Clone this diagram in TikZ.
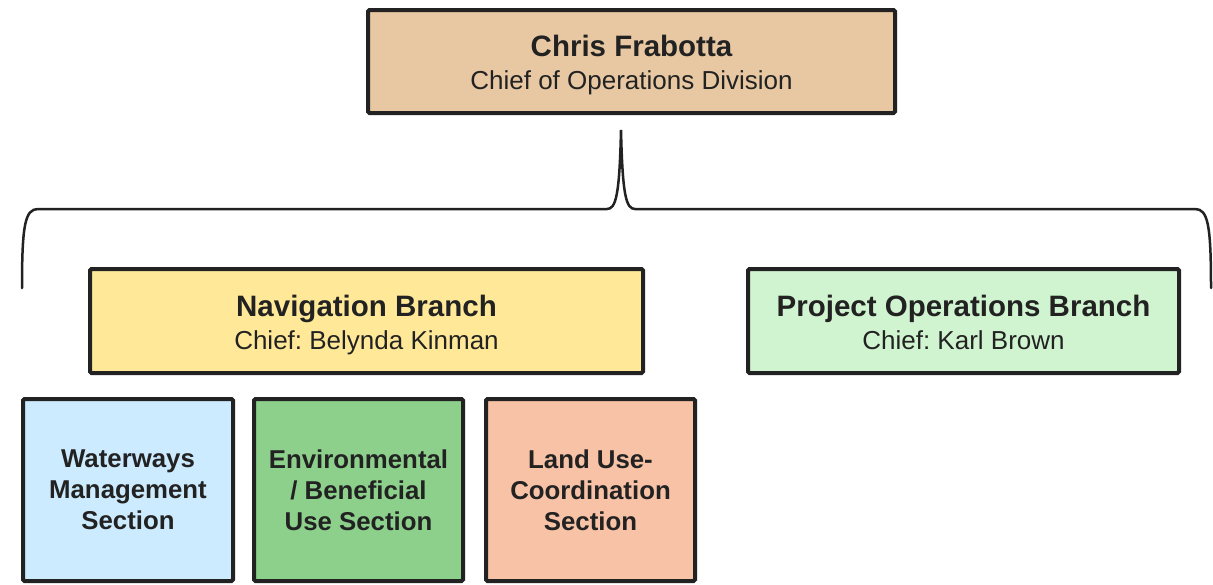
\documentclass[tikz,border=0pt]{standalone}
\usepackage{fontspec}
\setmainfont{Liberation Sans}
\frenchspacing
\definecolor{inkc}{HTML}{222222}
\definecolor{tanfill}{HTML}{E7C8A2}
\definecolor{navfill}{HTML}{FFE999}
\definecolor{projfill}{HTML}{D0F4D0}
\definecolor{wayfill}{HTML}{CCEBFF}
\definecolor{envfill}{HTML}{8CD08C}
\definecolor{landfill}{HTML}{F7C2A6}
\newcommand{\headline}[1]{{\fontsize{29.5}{33}\selectfont\bfseries #1}}
\newcommand{\subline}[1]{{\fontsize{26}{33}\selectfont #1}}
\begin{document}
\begin{tikzpicture}[x=1pt,y=-1pt,
  box/.style={draw=inkc, line width=4pt, rounded corners=1.5pt, inner sep=0pt, align=center, text=inkc},
  labeltext/.style={inner sep=0pt, align=center, text=inkc, font=\fontsize{26}{33}\selectfont\frenchspacing},
  secbox/.style={box, minimum width=209pt, minimum height=182pt, font=\fontsize{25.8}{31}\selectfont\bfseries},
  bracestyle/.style={draw=inkc, line width=2.5pt, line cap=round}]
\useasboundingbox (0,0) rectangle (1213,584);
\node[box, fill=tanfill, minimum width=527pt, minimum height=103pt] (top) at (631.5,61.5) {};
\node[labeltext] (toptext) at (631.5,65) {\headline{Chris Frabotta}\\\subline{Chief of Operations Division}};
\node[box, fill=navfill, minimum width=553pt, minimum height=104pt] (nav) at (366.5,321) {};
\node[labeltext] (navtext) at (366.5,325) {\headline{Navigation Branch}\\\subline{Chief: Belynda Kinman}};
\node[box, fill=projfill, minimum width=431pt, minimum height=104pt] (proj) at (963.5,321) {};
\node[labeltext] (projtext) at (963.5,322) {\headline{Project Operations Branch}\\\subline{Chief: Karl Brown}};
\node[secbox, fill=wayfill, minimum width=210pt] (way) at (128,490) {Waterways\\Management\\Section};
\node[secbox, fill=envfill] (env) at (358.5,490) {Environmental\\/ Beneficial\\Use Section};
\node[secbox, fill=landfill] (land) at (590.5,490) {Land Use-\\Coordination\\Section};
\coordinate (bl) at (22,288);
\coordinate (br) at (1211,288);
\coordinate (peak) at (621,130);
\draw[bracestyle] (bl) .. controls (22,225) and (25,209) .. (38,209) -- (607,209)
  .. controls (616,209) and (619.5,195) .. (peak)
  .. controls (622.5,195) and (626,209) .. (635,209) -- (1195,209)
  .. controls (1208,209) and (1211,225) .. (br);
\end{tikzpicture}
\end{document}
